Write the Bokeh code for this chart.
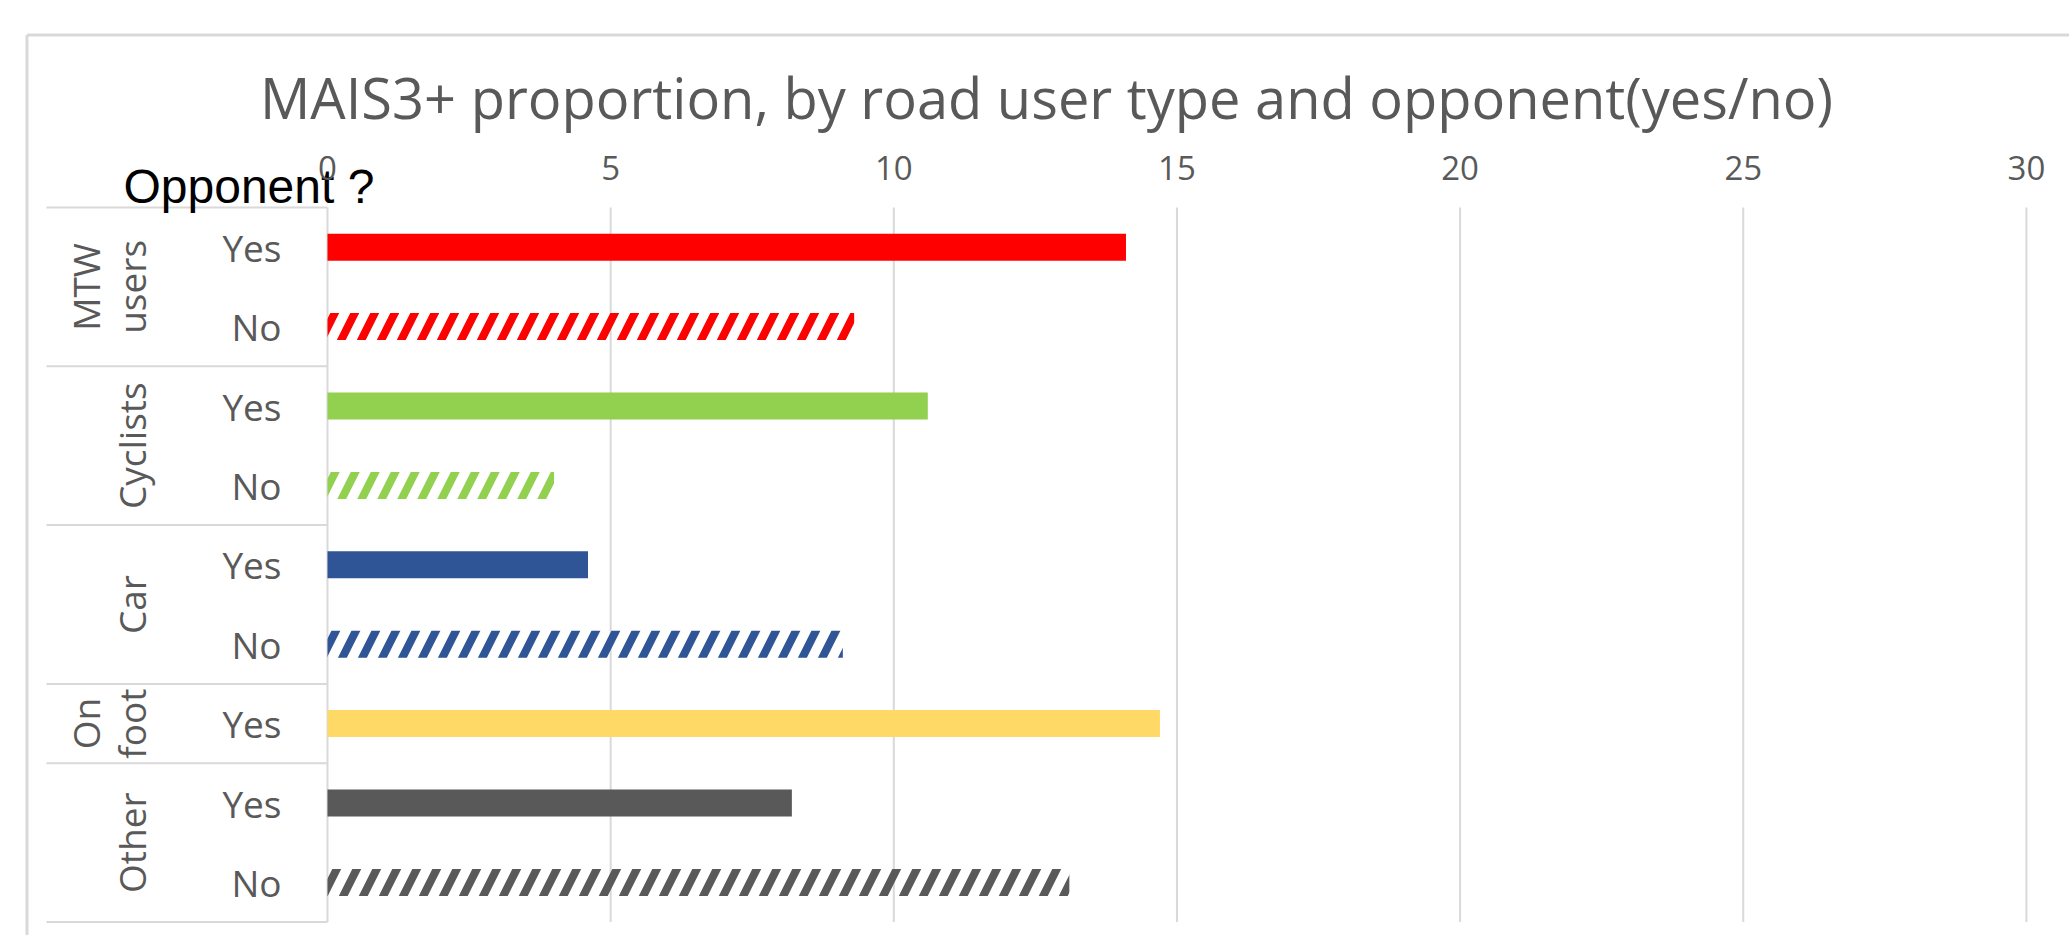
import math
from bokeh.plotting import figure
from bokeh.models import Range1d, LinearAxis, FixedTicker, ColumnDataSource, Grid
from bokeh.core.properties import value
from bokeh.embed import file_html
from bokeh.resources import INLINE

# ---------------- data ----------------
groups = ["MTW users", "Cyclists", "Car", "On foot", "Other"]
group_labels = ["MTW\nusers", "Cyclists", "Car", "On\nfoot", "Other"]
group_colors = ["#FF0000", "#92D050", "#2F5597", "#FFD966", "#595959"]
row_group = ["MTW users", "MTW users", "Cyclists", "Cyclists", "Car", "Car",
             "On foot", "Other", "Other"]
row_opponent = ["Yes", "No", "Yes", "No", "Yes", "No", "Yes", "Yes", "No"]
mais3_pct = [14.1, 9.3, 10.6, 4.0, 4.6, 9.1, 14.7, 8.2, 13.1]
x_ticks = [0, 5, 10, 15, 20, 25, 30]
title_text = "MAIS3+ proportion, by road user type and opponent(yes/no)"
corner_text = "Opponent ?"

# ---------------- layout (page pixels) ----------------
W, H = 2069, 935
X0 = 327.0      # page x of value 0
PXU = 56.63     # pixels per unit
TOP = 207.0     # page y of top of first row
ROW = 79.4      # row band height

def dx(px):
    return (px - X0) / PXU

def dy(py):
    return (py - TOP) / ROW - 0.5

GRID = "#D9D9D9"
TXT = "#595959"
FONT = "Open Sans"

p = figure(width=W, height=H, output_backend="svg", toolbar_location=None,
           x_range=Range1d(dx(0), dx(W)),
           y_range=Range1d(dy(H), dy(0)),
           x_axis_location=None, y_axis_location=None, min_border=0)
p.title.visible = False
p.outline_line_color = None
p.background_fill_color = "white"
p.border_fill_color = "white"
for g in p.select(type=Grid):
    g.visible = False

n = len(row_opponent)
idx = list(range(n))
ybot = n - 0.5

# outer chart border (top + left)
p.segment(x0=[dx(26.5), dx(26.5)], y0=[dy(34.5), dy(34.5)],
          x1=[dx(W + 5), dx(26.5)], y1=[dy(34.5), dy(H + 5)],
          line_color=GRID, line_width=3)

# vertical grid lines
p.segment(x0=x_ticks, x1=x_ticks, y0=[-0.5] * len(x_ticks), y1=[ybot] * len(x_ticks),
          line_color=GRID, line_width=2)

# table horizontal lines: top, group boundaries, bottom
bounds = [-0.5]
for i in range(1, n):
    if row_group[i] != row_group[i - 1]:
        bounds.append(i - 0.5)
bounds.append(ybot)
p.segment(x0=[dx(46)] * len(bounds), x1=[0] * len(bounds), y0=bounds, y1=bounds,
          line_color=GRID, line_width=2)

# bars
cmap = dict(zip(groups, group_colors))
colors = [cmap[g] for g in row_group]

yes_rows = [i for i in idx if row_opponent[i] == "Yes"]
no_rows = [i for i in idx if row_opponent[i] == "No"]
yes_src = ColumnDataSource(dict(
    y=yes_rows, v=[mais3_pct[i] for i in yes_rows], c=[colors[i] for i in yes_rows]))
no_src = ColumnDataSource(dict(
    y=no_rows, v=[mais3_pct[i] for i in no_rows], c=[colors[i] for i in no_rows]))
p.hbar(y="y", left=0, right="v", height=0.34, source=yes_src,
       fill_color="c", line_color=None)
p.hbar(y="y", left=0, right="v", height=0.34, source=no_src,
       fill_color="white", fill_alpha=0, line_color=None,
       hatch_pattern="/", hatch_color="c", hatch_scale=40, hatch_weight=8)

# Yes / No labels
p.text(x=[dx(281)] * n, y=idx, text=row_opponent, text_align="right",
       text_baseline="middle", text_font=value(FONT), text_font_size="37px",
       text_color=TXT)

# group labels (rotated), one text per line
gx, gy, gt = [], [], []
for g, lab in zip(groups, group_labels):
    rows = [i for i in idx if row_group[i] == g]
    yc = sum(rows) / len(rows)
    lines = lab.split("\n")
    nl = len(lines)
    for j, line in enumerate(lines):
        gx.append(dx(131 - 46 * (nl - 1 - j)))
        gy.append(yc)
        gt.append(line)
p.text(x=gx, y=gy, text=gt, angle=math.pi / 2, text_align="center",
       text_baseline="middle", text_font=value(FONT), text_font_size="37px",
       text_color=TXT)

# top value axis
ax = LinearAxis(ticker=FixedTicker(ticks=x_ticks), fixed_location=dy(187))
ax.axis_line_color = None
ax.major_tick_line_color = None
ax.minor_tick_line_color = None
ax.major_label_standoff = 2
ax.major_label_text_font = FONT
ax.major_label_text_font_size = "33px"
ax.major_label_text_color = TXT
p.add_layout(ax, "above")

# title
p.text(x=[dx(1046)], y=[dy(96)], text=[title_text], text_align="center",
       text_baseline="middle", text_font=value(FONT), text_font_size="56px",
       text_color=TXT)
# corner text
p.text(x=[dx(123)], y=[dy(186)], text=[corner_text], text_align="left",
       text_baseline="middle", text_font=value("Liberation Sans"),
       text_font_size="48px", text_color="black")

open("out.html", "w").write(file_html(p, INLINE))
